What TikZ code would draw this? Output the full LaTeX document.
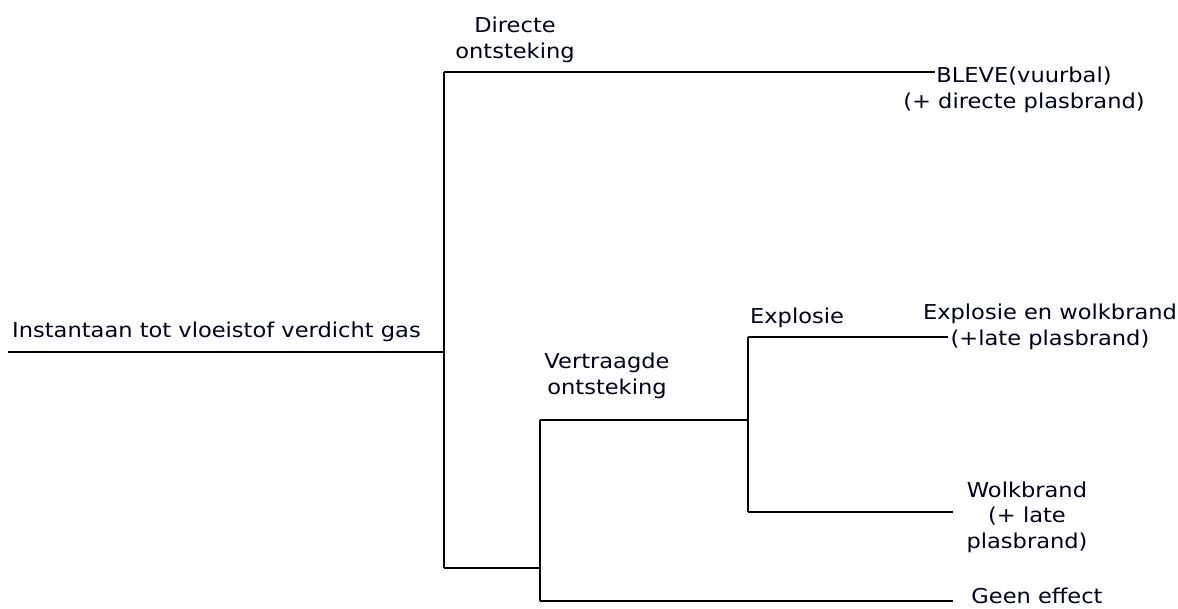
\documentclass[tikz,border=0pt]{standalone}
\usepackage{fontspec}
\setmainfont{DejaVu Sans}[FakeStretch=1.1]
\begin{document}
\begin{tikzpicture}[x=1pt,y=-1pt,
  conn/.style={line width=1.6pt,black},
  lbl/.style={inner sep=0pt,align=center,font=\fontsize{20.5}{25.5}\selectfont,text=black!90!blue}]
\useasboundingbox (0,0) rectangle (1178,608);
% junction coordinates
\coordinate (start) at (8,352);
\coordinate (j1) at (444,352);
\coordinate (j1t) at (444,72);
\coordinate (j1b) at (444,568);
\coordinate (j2) at (540,568);
\coordinate (j2t) at (540,420);
\coordinate (j2b) at (540,601);
\coordinate (j3) at (748,420);
\coordinate (j3t) at (748,337);
\coordinate (j3b) at (748,512);
\coordinate (e1) at (935,72);
\coordinate (e2) at (948,337);
\coordinate (e3) at (953,512);
\coordinate (e4) at (953,601);
% labels (anchor=base sits on the last line's baseline)
\node[lbl,anchor=base west] (root) at (12,337) {Instantaan tot vloeistof verdicht gas};
\node[lbl,anchor=base] (direct) at (515,58) {Directe\\ontsteking};
\node[lbl,anchor=base] (bleve) at (1024,108) {BLEVE(vuurbal)\\(+ directe plasbrand)};
\node[lbl,anchor=base] (vertr) at (607,394) {Vertraagde\\ontsteking};
\node[lbl,anchor=base] (expl) at (797,323) {Explosie};
\node[lbl,anchor=base] (explw) at (1050,345) {Explosie en wolkbrand\\(+late plasbrand)};
\node[lbl,anchor=base] (wolk) at (1027,548) {Wolkbrand\\(+ late\\plasbrand)};
\node[lbl,anchor=base] (geen) at (1037,603) {Geen effect};
% connectors
\draw[conn] (start) -- (j1);
\draw[conn] (j1t) -- (j1b);
\draw[conn] (j1t) -- (e1);
\draw[conn] (j1b) -- (j2);
\draw[conn] (j2t) -- (j2b);
\draw[conn] (j2t) -- (j3);
\draw[conn] (j2b) -- (e4);
\draw[conn] (j3t) -- (j3b);
\draw[conn] (j3t) -- (e2);
\draw[conn] (j3b) -- (e3);
\end{tikzpicture}
\end{document}
